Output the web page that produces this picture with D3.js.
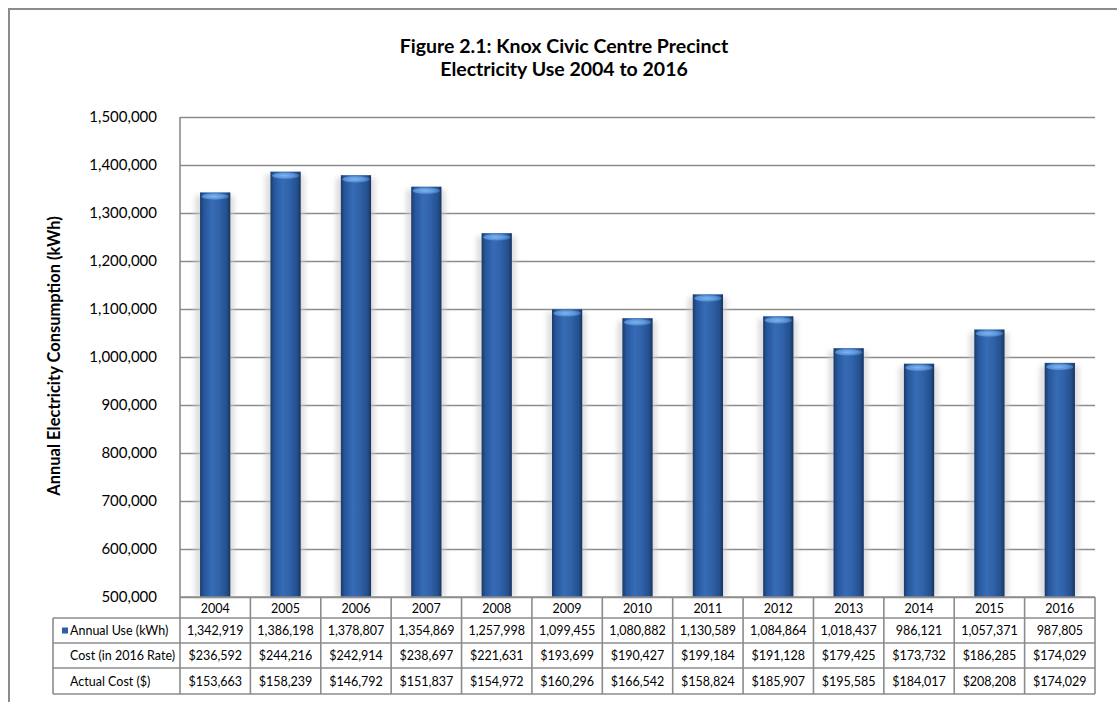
<!DOCTYPE html>
<html>
<head>
<meta charset="utf-8">
<script src="https://cdn.jsdelivr.net/npm/d3@7"></script>
<style>
  html, body { margin: 0; padding: 0; background: #fff; }
  svg { display: block; font-family: Lato, "Open Sans", sans-serif; }
</style>
</head>
<body>
<svg id="chart" width="1117" height="702"></svg>
<script>
// ---- data ----
const years = ["2004","2005","2006","2007","2008","2009","2010","2011","2012","2013","2014","2015","2016"];
const annualUse = [1342919,1386198,1378807,1354869,1257998,1099455,1080882,1130589,1084864,1018437,986121,1057371,987805];
const cost2016Rate = [236592,244216,242914,238697,221631,193699,190427,199184,191128,179425,173732,186285,174029];
const actualCost = [153663,158239,146792,151837,154972,160296,166542,158824,185907,195585,184017,208208,174029];
const rowLabels = ["Annual Use (kWh)","Cost (in 2016 Rate)","Actual Cost ($)"];
const yTicks = [500000,600000,700000,800000,900000,1000000,1100000,1200000,1300000,1400000,1500000];
const titleLines = ["Figure 2.1: Knox Civic Centre Precinct","Electricity Use 2004 to 2016"];
const yTitle = "Annual Electricity Consumption (kWh)";

// ---- layout ----
const svg = d3.select("#chart");
const plot = {left: 180, right: 1095, top: 117, bottom: 597};
const tableLeft = 53;
const rowEdges = [597, 618, 643, 668, 694];
const gridColor = "#8c8c8c";

const x = d3.scaleBand().domain(years).range([plot.left, plot.right]).padding(0);
const y = d3.scaleLinear().domain([500000, 1500000]).range([plot.bottom, plot.top]);

// outer frame
svg.append("rect").attr("x", 9).attr("y", 9).attr("width", 1130).attr("height", 720)
  .attr("fill", "none").attr("stroke", gridColor).attr("stroke-width", 2);

// title
const title = svg.append("text").attr("text-anchor", "middle")
  .attr("font-weight", "bold").attr("font-size", 19.5).attr("fill", "#000");
titleLines.forEach((t, i) => {
  title.append("tspan").attr("x", 564).attr("y", 53 + i * 22.5).text(t);
});

// y-axis title
svg.append("text")
  .attr("transform", "translate(60,356) rotate(-90)")
  .attr("text-anchor", "middle").attr("font-weight", "bold").attr("font-size", 16.5)
  .text(yTitle);

// defs
const defs = svg.append("defs");
const g1 = defs.append("linearGradient").attr("id", "barGrad").attr("x1", "0").attr("x2", "1").attr("y1", "0").attr("y2", "0");
[["0%", "#1b3a66"], ["12%", "#26559a"], ["40%", "#366cb6"], ["65%", "#2f61a8"], ["88%", "#24508c"], ["100%", "#183460"]]
  .forEach(([o, c]) => g1.append("stop").attr("offset", o).attr("stop-color", c));
const g2 = defs.append("radialGradient").attr("id", "capGrad").attr("cx", "45%").attr("cy", "50%").attr("r", "60%");
[["0%", "#7fb4ee"], ["60%", "#5a93d8"], ["100%", "#2f63a8"]]
  .forEach(([o, c]) => g2.append("stop").attr("offset", o).attr("stop-color", c));
defs.append("filter").attr("id", "blur").attr("x", "-50%").attr("y", "-10%").attr("width", "200%").attr("height", "120%")
  .append("feGaussianBlur").attr("stdDeviation", 2.5);

// gridlines + y labels
const yAxis = d3.axisLeft(y).tickValues(yTicks).tickSize(-(plot.right - plot.left)).tickPadding(23)
  .tickFormat(d3.format(","));
const ga = svg.append("g").attr("transform", `translate(${plot.left},0)`).call(yAxis);
ga.select(".domain").remove();
ga.selectAll(".tick line").attr("stroke", gridColor).attr("stroke-width", 1.6);
ga.selectAll(".tick text").attr("font-size", 15).attr("fill", "#000")
  .attr("font-family", "Lato, 'Open Sans', sans-serif");

// left axis line
svg.append("line").attr("x1", plot.left).attr("x2", plot.left).attr("y1", plot.top).attr("y2", plot.bottom)
  .attr("stroke", gridColor).attr("stroke-width", 1.6);

// bars
const bw = x.bandwidth() * 0.43;
const bars = svg.append("g").selectAll("g").data(years).join("g");
bars.append("rect")
  .attr("x", (d) => x(d) + (x.bandwidth() - bw) / 2 - 5)
  .attr("y", (d, i) => y(annualUse[i]) + 3)
  .attr("width", bw + 9)
  .attr("height", (d, i) => plot.bottom - y(annualUse[i]) - 3)
  .attr("fill", "#c8c8c8").attr("opacity", 0.6).attr("filter", "url(#blur)");
bars.append("rect")
  .attr("x", (d) => x(d) + (x.bandwidth() - bw) / 2)
  .attr("y", (d, i) => y(annualUse[i]))
  .attr("width", bw)
  .attr("height", (d, i) => plot.bottom - y(annualUse[i]))
  .attr("fill", "url(#barGrad)");
bars.append("ellipse")
  .attr("cx", (d) => x(d) + x.bandwidth() / 2)
  .attr("cy", (d, i) => y(annualUse[i]) + 4)
  .attr("rx", bw / 2 - 1.5).attr("ry", 3.5)
  .attr("fill", "url(#capGrad)");

// data table
const tbl = svg.append("g");
const lineStyle = (sel) => sel.attr("stroke", gridColor).attr("stroke-width", 1.6).attr("fill", "none");
tbl.append("line").attr("x1", plot.left).attr("x2", plot.right).attr("y1", rowEdges[0]).attr("y2", rowEdges[0]).call(lineStyle);
rowEdges.slice(1).forEach((ry) => {
  tbl.append("line").attr("x1", tableLeft).attr("x2", plot.right).attr("y1", ry).attr("y2", ry).call(lineStyle);
});
tbl.append("line").attr("x1", tableLeft).attr("x2", tableLeft).attr("y1", rowEdges[1]).attr("y2", rowEdges[4]).call(lineStyle);
years.forEach((d) => {
  tbl.append("line").attr("x1", x(d)).attr("x2", x(d)).attr("y1", rowEdges[0]).attr("y2", rowEdges[4]).call(lineStyle);
});
tbl.append("line").attr("x1", plot.right).attr("x2", plot.right).attr("y1", rowEdges[0]).attr("y2", rowEdges[4]).call(lineStyle);

const cellText = (txt, cx, cy, anchor) => tbl.append("text").attr("x", cx).attr("y", cy)
  .attr("text-anchor", anchor || "middle").attr("dominant-baseline", "central")
  .attr("font-size", 12.5).attr("fill", "#000").text(txt);

const fmtN = d3.format(",");
const fmtD = (v) => "$" + d3.format(",")(v);
years.forEach((d, i) => {
  const cx = x(d) + x.bandwidth() / 2;
  cellText(d, cx, (rowEdges[0] + rowEdges[1]) / 2 + 1);
  cellText(fmtN(annualUse[i]), cx, (rowEdges[1] + rowEdges[2]) / 2);
  cellText(fmtD(cost2016Rate[i]), cx, (rowEdges[2] + rowEdges[3]) / 2);
  cellText(fmtD(actualCost[i]), cx, (rowEdges[3] + rowEdges[4]) / 2);
});
rowLabels.forEach((t, r) => {
  cellText(t, 70, (rowEdges[r + 1] + rowEdges[r + 2]) / 2, "start");
});
tbl.append("rect").attr("x", 62).attr("y", (rowEdges[1] + rowEdges[2]) / 2 - 3).attr("width", 6).attr("height", 6)
  .attr("fill", "#2d5ea3");
</script>
</body>
</html>
